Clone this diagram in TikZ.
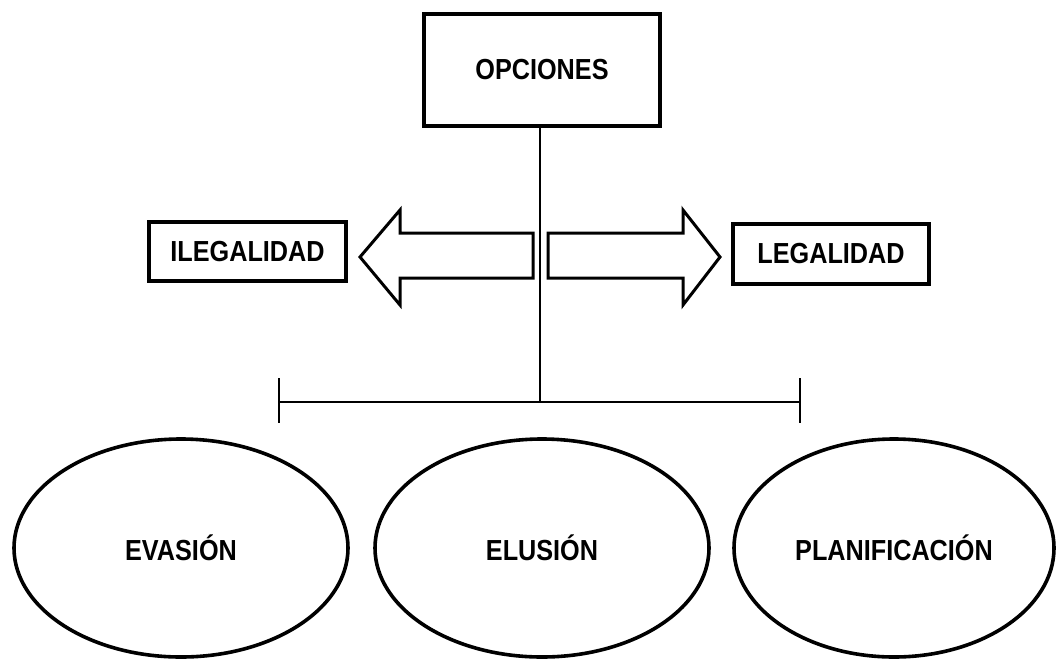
\documentclass[tikz,border=0pt]{standalone}
\usepackage{fontspec}
\newfontfamily\lab{Liberation Sans}[FakeStretch=0.87]
\usetikzlibrary{shapes.geometric}
\tikzset{
  lbl/.style={font=\lab\bfseries\fontsize{29}{32}\selectfont, text=black},
  boxnode/.style={lbl, draw, line width=3.6pt, inner sep=0pt},
  ovalnode/.style={lbl, draw, ellipse, line width=3.6pt, inner sep=0pt, minimum width=334pt, minimum height=218pt},
  bigarrow/.style={draw, line width=3pt, line join=miter, fill=white},
  thin/.style={line width=1.5pt}
}
\begin{document}
\begin{tikzpicture}[x=1pt,y=-1pt]
\useasboundingbox (0,0) rectangle (1057,662);
\node[boxnode, minimum width=236pt, minimum height=112pt] (opc) at (542,70) {OPCIONES};
\node[boxnode, minimum width=197pt, minimum height=59pt] (ileg) at (247.5,251.5) {ILEGALIDAD};
\node[boxnode, minimum width=196pt, minimum height=60pt] (leg) at (831,254) {LEGALIDAD};
\node[ovalnode] (eva) at (181,548) {EVASIÓN};
\node[ovalnode] (elu) at (542,548) {ELUSIÓN};
\node[ovalnode, minimum width=320pt] (pla) at (894,548) {PLANIFICACIÓN};
\coordinate (mid) at (540,402);
\coordinate (lt) at (279,402);
\coordinate (rt) at (800,402);
\draw[thin] (opc.south -| mid) -- (mid);
\draw[thin] (lt) -- (rt);
\draw[thin] (279,378) -- (279,423);
\draw[thin] (800,378) -- (800,423);
\draw[bigarrow] (533,233) -- (400,233) -- (400,210) -- (360,257) -- (400,305) -- (400,278) -- (533,278) -- cycle;
\draw[bigarrow] (548,233) -- (683,233) -- (683,210) -- (720,257) -- (683,305) -- (683,278) -- (548,278) -- cycle;
\end{tikzpicture}
\end{document}
